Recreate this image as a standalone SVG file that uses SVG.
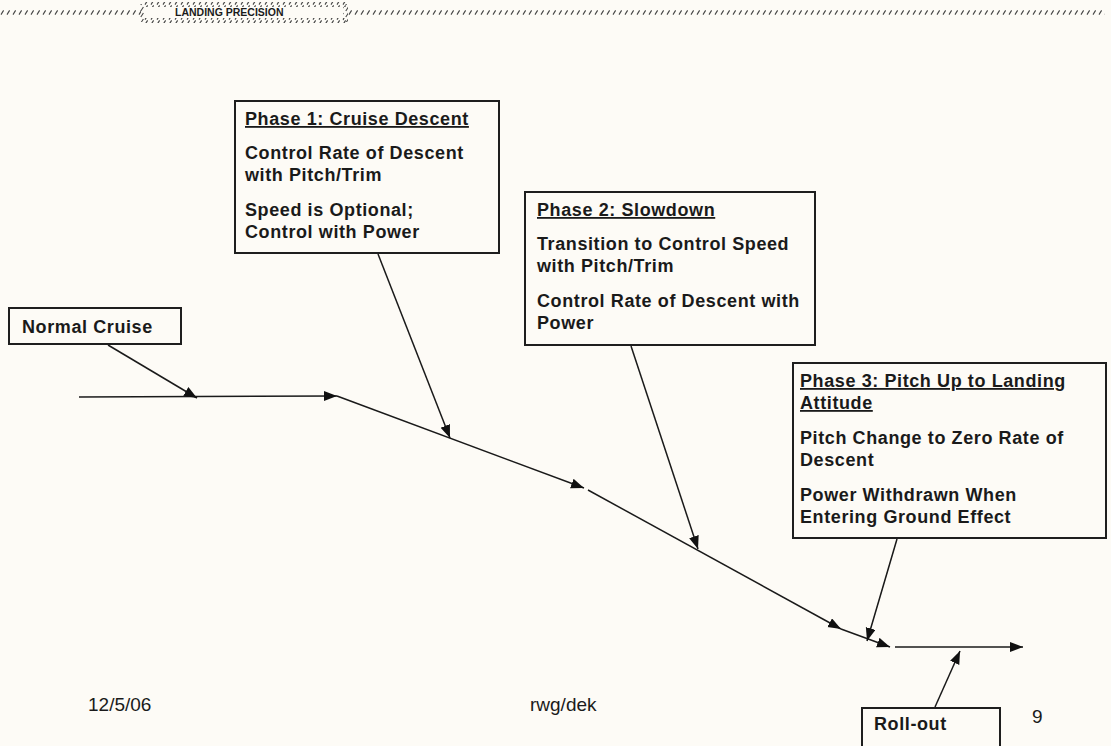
<svg xmlns="http://www.w3.org/2000/svg" width="1111" height="746" viewBox="0 0 1111 746">
<style>
.box{fill:none;stroke:#1e1e1e;stroke-width:2}
.t{font-family:"Liberation Sans",Arial,sans-serif;font-weight:bold;font-size:18px;letter-spacing:0.6px;fill:#1a1a1a}
.u{text-decoration:underline}
.f{font-family:"Liberation Sans",Arial,sans-serif;font-size:19px;fill:#1a1a1a}
.ln{fill:none;stroke:#1a1a1a;stroke-width:1.5}
</style>
<defs>
<pattern id="hh" x="0" y="0" width="6" height="5" patternUnits="userSpaceOnUse">
<line x1="1" y1="4.6" x2="3.6" y2="0.4" stroke="#444" stroke-width="1.1"/>
</pattern>
<pattern id="hv" x="0" y="0" width="5" height="6" patternUnits="userSpaceOnUse">
<line x1="0.8" y1="5" x2="3.4" y2="1" stroke="#444" stroke-width="1.1"/>
</pattern>
<marker id="ah" markerUnits="userSpaceOnUse" markerWidth="15" markerHeight="11" refX="13" refY="5" orient="auto">
<path d="M0,0 L13,5 L0,10 z" fill="#111"/>
</marker>
</defs>
<rect x="0" y="0" width="1111" height="746" fill="#fdfbf6"/>
<g id="header">
<rect x="0" y="10" width="141" height="5" fill="url(#hh)"/>
<rect x="348" y="10" width="757" height="5" fill="url(#hh)"/>
<rect x="143" y="2" width="203" height="5" fill="url(#hh)"/>
<rect x="143" y="18" width="203" height="5" fill="url(#hh)"/>
<rect x="140" y="4" width="5" height="18" fill="url(#hv)"/>
<rect x="343" y="4" width="5" height="18" fill="url(#hv)"/>
<text x="175" y="16" font-family="Liberation Sans,Arial,sans-serif" font-weight="bold" font-size="10.5" fill="#1a1a1a">LANDING PRECISION</text>
</g>
<g id="connectors">
<line class="ln" x1="79" y1="397" x2="337" y2="396" marker-end="url(#ah)"/>
<line class="ln" x1="337" y1="396" x2="584" y2="488" marker-end="url(#ah)"/>
<line class="ln" x1="588" y1="490" x2="841" y2="629" marker-end="url(#ah)"/>
<line class="ln" x1="841" y1="629" x2="890" y2="647" marker-end="url(#ah)"/>
<line class="ln" x1="895" y1="647" x2="1023" y2="647" marker-end="url(#ah)"/>
<line class="ln" x1="108" y1="345" x2="197" y2="398" marker-end="url(#ah)"/>
<line class="ln" x1="378" y1="254" x2="450" y2="438" marker-end="url(#ah)"/>
<line class="ln" x1="631" y1="346" x2="698" y2="549" marker-end="url(#ah)"/>
<line class="ln" x1="897" y1="539" x2="867" y2="641" marker-end="url(#ah)"/>
<line class="ln" x1="935" y1="707" x2="960" y2="651" marker-end="url(#ah)"/>
</g>
<g id="normal-cruise">
<rect class="box" x="9" y="308" width="172" height="36"/>
<text class="t" x="22" y="333" font-size="18" letter-spacing="0.3">Normal Cruise</text>
</g>
<g id="phase1">
<rect class="box" x="235" y="101" width="264" height="152"/>
<text class="t u" x="245" y="125">Phase 1: Cruise Descent</text>
<text class="t" x="245" y="159">Control Rate of Descent</text>
<text class="t" x="245" y="181">with Pitch/Trim</text>
<text class="t" x="245" y="216">Speed is Optional;</text>
<text class="t" x="245" y="238">Control with Power</text>
</g>
<g id="phase2">
<rect class="box" x="525" y="192" width="290" height="153"/>
<text class="t u" x="537" y="216">Phase 2: Slowdown</text>
<text class="t" x="537" y="250">Transition to Control Speed</text>
<text class="t" x="537" y="272">with Pitch/Trim</text>
<text class="t" x="537" y="307">Control Rate of Descent with</text>
<text class="t" x="537" y="329">Power</text>
</g>
<g id="phase3">
<rect class="box" x="793" y="363" width="313" height="175"/>
<text class="t u" x="800" y="387">Phase 3: Pitch Up to Landing</text>
<text class="t u" x="800" y="409">Attitude</text>
<text class="t" x="800" y="444">Pitch Change to Zero Rate of</text>
<text class="t" x="800" y="466">Descent</text>
<text class="t" x="800" y="501">Power Withdrawn When</text>
<text class="t" x="800" y="523">Entering Ground Effect</text>
</g>
<g id="roll-out">
<path class="box" d="M862,750 L862,708 L1000,708 L1000,750"/>
<text class="t" x="874" y="730" font-size="21" letter-spacing="0">Roll-out</text>
</g>
<g id="footer">
<text class="f" x="88" y="711">12/5/06</text>
<text class="f" x="530" y="711">rwg/dek</text>
<text class="f" x="1032" y="723">9</text>
</g>
</svg>
